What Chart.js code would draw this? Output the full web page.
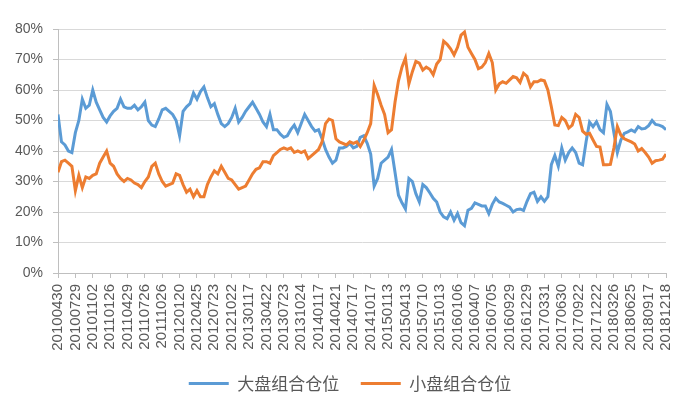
<!DOCTYPE html>
<html>
<head>
<meta charset="utf-8">
<script src="https://cdn.jsdelivr.net/npm/chart.js@4.4.0/dist/chart.umd.min.js"></script>
<style>
  html, body { margin: 0; padding: 0; background: #fff; overflow: hidden; }
  #box { width: 690px; height: 402px; }
</style>
</head>
<body>
<div id="box"><canvas id="positionChart" width="690" height="402"></canvas></div>
<script>
// tick labels on the x axis, one every 5 points
var tickLabels = [
    "20100430", "20100729", "20101102", "20110126", "20110429", "20110726",
    "20111026", "20120120", "20120425", "20120723", "20121022", "20130117",
    "20130422", "20130723", "20131024", "20140117", "20140421", "20140717",
    "20141017", "20150113", "20150413", "20150710", "20151013", "20160106",
    "20160407", "20160705", "20160929", "20161229", "20170331", "20170630",
    "20170922", "20171222", "20180326", "20180625", "20180917", "20181218"
];
var pointsPerLabel = 5;

// 大盘组合仓位 (%)
var bigCap = [
    52, 43, 42, 40, 39.5, 46, 50, 57, 54, 55,
    60, 56, 53.5, 51, 49.5, 51.5, 53, 54, 57, 54.5,
    54, 54, 55, 53.5, 54.5, 56, 50, 48.5, 48, 50.5,
    53.5, 54, 53, 52, 50, 45, 53, 54.5, 55.5, 59,
    57, 59.5, 61, 57.5, 54.5, 55.5, 52, 49, 48, 49,
    51, 54, 49.5, 51, 53, 54.5, 56, 54, 52, 49.5,
    48, 52, 47, 47, 45.5, 44.5, 45, 47, 48.5, 46,
    49, 52, 50, 48, 46.5, 47, 44, 40.5, 38, 36,
    37, 41, 41, 41.5, 42.5, 41, 41.5, 44.5, 45, 42.5,
    39, 28.5, 31, 36, 37, 38, 40.5, 33, 25.5, 23,
    21, 31, 30, 26, 23.3, 29, 28, 26.3, 24.5, 23.3,
    20, 18.4, 17.8, 20, 17.3, 19.5, 16.5, 15.5, 20.6, 21.2,
    23, 22.5, 22, 22, 19.5, 22.5, 24.5, 23.3, 22.8, 22.2,
    21.6, 20, 20.8, 21, 20.5, 23.5, 26, 26.5, 23.5, 25,
    23.5, 25, 35.5, 38.5, 35, 41, 37, 39.5, 41, 39.5,
    36, 35.5, 43, 49.5, 48, 49.6, 47, 46, 55.3, 53,
    46, 39.5, 43.6, 45.8, 46.3, 46.9, 46.3, 48, 47.2, 47.4,
    48.3, 50, 48.7, 48.5, 48, 47
];

// 小盘组合仓位 (%)
var smallCap = [
    33, 36.5, 37, 36, 35, 27, 32, 28, 31.5, 31,
    32, 32.5, 36, 38, 40, 36, 35, 32.5, 31, 30,
    31, 30.5, 29.5, 29, 28, 30, 31.5, 35, 36, 32.5,
    30, 28.5, 29, 29.5, 32.5, 32, 29, 26.5, 27.5, 25,
    27, 25, 25, 29, 31.5, 33.5, 32.5, 35, 33, 31,
    30.5, 29, 27.5, 28, 28.5, 30.5, 32.5, 34, 34.5, 36.5,
    36.5, 36, 38.5, 39.5, 40.5, 41, 40.5, 41, 39.5, 40,
    39.5, 40, 37.5, 38.5, 39.5, 40.5, 43, 49, 50.5, 50,
    44, 43, 42.5, 42, 43, 42.5, 43, 41.5, 43.5, 46,
    49, 61.5, 58.5, 55, 52, 46, 47, 56, 63, 67.5,
    70.5, 62, 66, 69.4, 68.8, 66.5, 67.5, 66.8, 65, 68.5,
    70, 76, 75, 73.5, 71.5, 74, 78, 79, 74, 72,
    70, 67, 67.5, 69, 72, 69, 60, 62, 62.7, 62.2,
    63.3, 64.4, 64, 62.5, 65.5, 64.5, 61, 62.7, 62.7, 63.3,
    63, 60, 54.5, 48.5, 48.3, 51, 50, 47.5, 48.5, 52,
    51, 46.5, 45.5, 45.8, 43.6, 41.5, 41.3, 35.5, 35.5, 35.6,
    41, 48, 45.2, 44, 43.5, 43, 42.3, 40, 40.8, 39.5,
    38, 36, 36.8, 37, 37.3, 39
];

function toPoints(values) {
    return values.map(function (v, i) { return { x: i, y: v }; });
}

var textColor = "#595959";
var axisColor = "#BFBFBF";

// legend sits a little right of centre in the original
var legendShift = {
    id: "legendShift",
    afterLayout: function (chart) {
        chart.legend.left += 12;
        chart.legend.right += 12;
    }
};

var ctx = document.getElementById("positionChart");
var myChart = new Chart(ctx, {
    type: "line",
    data: {
        datasets: [
            {
                label: "大盘组合仓位",
                data: toPoints(bigCap),
                borderColor: "#5B9BD5",
                backgroundColor: "#5B9BD5",
                borderWidth: 3,
                pointRadius: 0,
                tension: 0,
                order: 2
            },
            {
                label: "小盘组合仓位",
                data: toPoints(smallCap),
                borderColor: "#ED7D31",
                backgroundColor: "#ED7D31",
                borderWidth: 3,
                pointRadius: 0,
                tension: 0,
                order: 1
            }
        ]
    },
    plugins: [legendShift],
    options: {
        responsive: false,
        animation: false,
        layout: {
            padding: { top: 29, right: 14, left: 0, bottom: 0 }
        },
        plugins: {
            tooltip: { enabled: false },
            legend: {
                position: "bottom",
                labels: {
                    boxWidth: 40,
                    boxHeight: 3,
                    padding: 21.5,
                    color: textColor,
                    font: { family: "'Noto Sans CJK SC', sans-serif", size: 17 },
                    sort: function (a, b) { return a.datasetIndex - b.datasetIndex; },
                    generateLabels: function (chart) {
                        var items = Chart.defaults.plugins.legend.labels.generateLabels(chart);
                        items.forEach(function (it) {
                            it.lineWidth = 0;
                            it.fillStyle = it.strokeStyle;
                        });
                        return items;
                    }
                }
            }
        },
        scales: {
            x: {
                type: "linear",
                min: 0,
                max: (tickLabels.length - 1) * pointsPerLabel,
                afterFit: function (scale) { scale.height = 80.5; },
                grid: {
                    drawOnChartArea: false,
                    drawTicks: true,
                    tickLength: 5,
                    tickColor: axisColor
                },
                border: { display: true, color: axisColor },
                ticks: {
                    stepSize: pointsPerLabel,
                    autoSkip: false,
                    minRotation: 90,
                    maxRotation: 90,
                    padding: 6,
                    color: textColor,
                    font: { family: "'Liberation Sans', Arial, sans-serif", size: 15 },
                    callback: function (value) {
                        return tickLabels[Math.round(value / pointsPerLabel)];
                    }
                }
            },
            y: {
                min: 0,
                max: 80,
                afterFit: function (scale) { scale.width = 58; },
                grid: {
                    color: "#D9D9D9",
                    borderDash: [2, 2],
                    tickLength: 5,
                    tickColor: axisColor,
                    tickBorderDash: [1, 0]
                },
                border: { display: true, color: axisColor },
                ticks: {
                    stepSize: 10,
                    padding: 10,
                    color: textColor,
                    font: { family: "'Liberation Sans', Arial, sans-serif", size: 14 },
                    callback: function (value) { return value + "%"; }
                }
            }
        }
    }
});
</script>
</body>
</html>
